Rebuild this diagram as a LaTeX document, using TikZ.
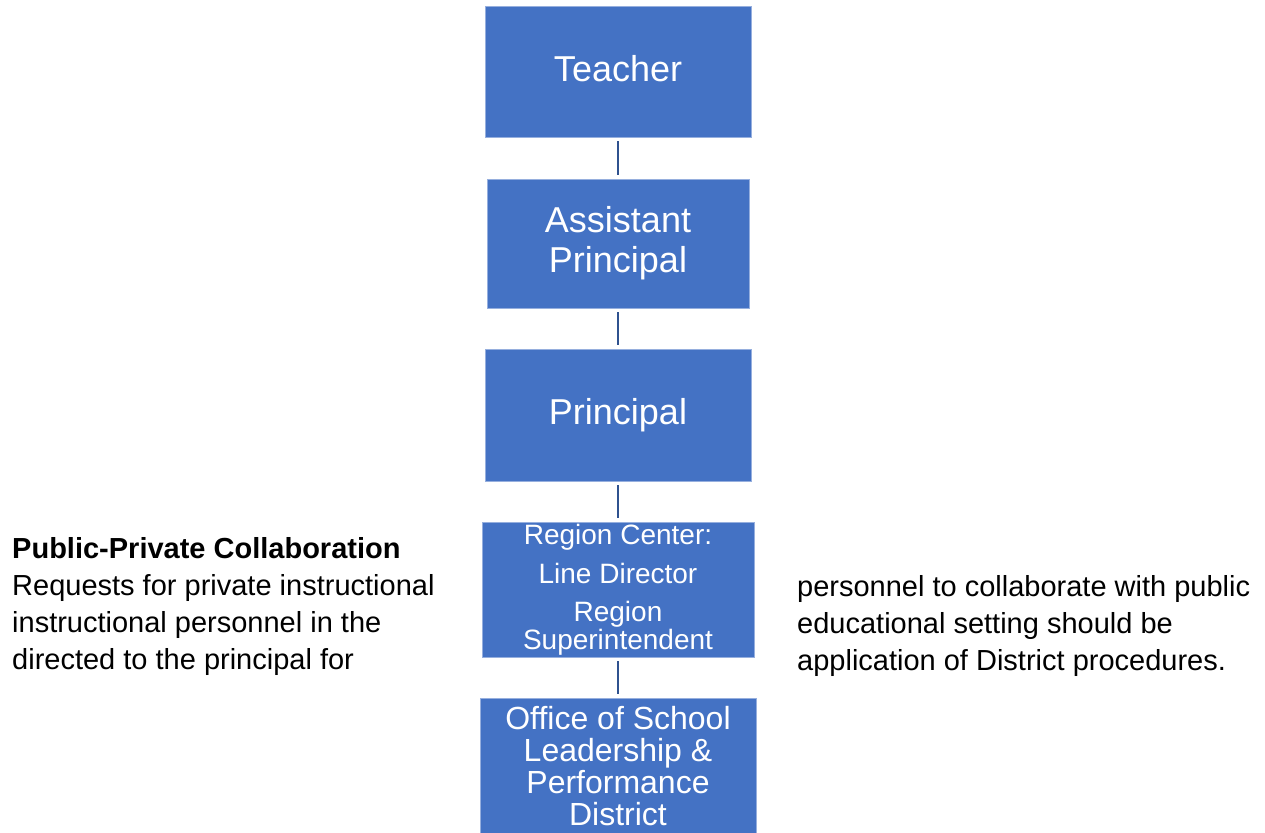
\documentclass[tikz,border=0pt]{standalone}
\usepackage{fontspec}
\setmainfont{Liberation Sans}
\usetikzlibrary{positioning}
\definecolor{boxblue}{RGB}{68,114,196}
\definecolor{boxedge}{RGB}{150,175,222}
\definecolor{linkblue}{RGB}{47,82,143}
\tikzset{
    rolebox/.style = {rectangle, draw=boxedge, line width=0.8pt, fill=boxblue, text=white, align=center, inner sep=0pt},
    edgel/.style = {line width=1.8pt, draw=linkblue, shorten >=4pt, shorten <=4pt},
    notetext/.style = {align=left, inner sep=0pt, font=\fontsize{29}{37}\selectfont},
}

\begin{document}
\begin{tikzpicture}[x=1pt,y=-1pt]
\useasboundingbox (0,0) rectangle (1265,832);
%
\node[rolebox, minimum width=266pt, minimum height=131pt, text depth=6pt, font=\fontsize{36}{40}\selectfont] at (618,71.5) (teacher) {Teacher};
\node[rolebox, minimum width=262pt, minimum height=129pt, font=\fontsize{36}{40}\selectfont] at (618,243.5) (asstprin) {Assistant\\Principal};
\node[rolebox, minimum width=266pt, minimum height=132pt, font=\fontsize{36}{40}\selectfont] at (618,415) (principal) {Principal};
\node[rolebox, minimum width=272pt, minimum height=135pt, font=\fontsize{28}{28}\selectfont] at (618,589.5) (region) {Region Center:\\[11pt]Line Director\\[10pt]Region\\Superintendent};
\node[rolebox, minimum width=276pt, minimum height=136pt, font=\fontsize{32}{32}\selectfont] at (618,766) (office) {Office of School\\Leadership \&\\Performance\\District};
%
\draw[edgel] (teacher) -- (asstprin);
\draw[edgel] (asstprin) -- (principal);
\draw[edgel] (principal) -- (region);
\draw[edgel] (region) -- (office);
%
\node[notetext, anchor=north west] at (12,537) (leftnote) {\textbf{Public-Private Collaboration}\\Requests for private instructional\\instructional personnel in the\\directed to the principal for};
\node[notetext, anchor=north west] at (797,575) (rightnote) {personnel to collaborate with public\\educational setting should be\\application of District procedures.};

\end{tikzpicture}
\end{document}
